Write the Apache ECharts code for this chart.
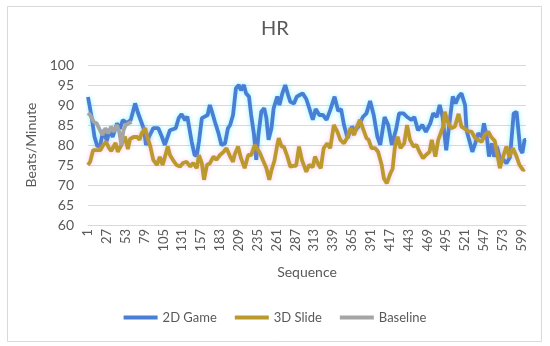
<!DOCTYPE html>
<html>
<head>
<meta charset="utf-8">
<script src="https://cdn.jsdelivr.net/npm/echarts@6/dist/echarts.min.js"></script>
<style>html,body{margin:0;padding:0;background:#fff;}#c{width:550px;height:346px;}</style>
</head>
<body>
<div id="c"></div>
<script>
// Sequence categories 1..605
var categoryCount = 605;

// 2D Game
var gameSeq = [1,6,10,14,18,22,27,31,35,41,
  45,49,55,60,66,70,74,78,81,85,
  91,98,103,107,114,122,126,130,135,138,
  140,144,148,151,154,158,162,166,169,172,
  176,181,185,190,194,197,201,205,209,212,
  216,219,223,226,230,233,236,240,244,247,
  250,254,257,262,265,269,273,277,280,285,
  289,293,297,302,307,311,315,320,325,330,
  335,341,346,350,354,359,365,369,374,380,
  385,390,395,400,404,410,415,420,426,430,
  436,441,447,451,456,462,467,473,477,482,
  486,490,495,500,504,508,512,516,521,523,
  528,531,535,539,544,547,551,554,558,561,
  565,569,574,578,583,588,592,597,600,603,
  605];
var gameHR = [92,87,82,79.6,80,83.7,81,84,82,85.4,
  84,86.2,85.5,86.3,90.4,88,86,84,80,82,
  84.2,84.2,82,80,83.7,84.2,86.7,87.7,86.2,87.1,
  85,80.8,77.5,77.3,80.8,86.7,87.1,87.5,90,88.3,
  85.8,82.9,80,80.4,84.2,85,87.5,94.2,95,93.7,
  95,92.9,92.1,87.5,82.5,76.3,82.5,88.3,89.2,86.7,
  81.3,84.2,89.2,92.1,90,92.9,95,92.5,90.8,90.4,
  92.1,92.5,92.9,91.5,88.7,86.3,89,87.5,87.5,86.3,
  88.7,92.1,88.5,89,85,81.7,84.6,83.5,84.6,87,
  87.9,91,87.5,82.1,80,87,85,80,84,87.9,
  87.9,87,86.3,87,83.7,85,83.3,85.4,87.9,87,
  90,87,78.7,86.3,92.1,90.4,92.1,92.9,90,83.7,
  80.4,78.3,80.4,82.9,82,85.4,82,77.1,80.4,77.1,
  79.6,76.7,76.3,75.4,77,87.9,88.3,79,78,81.3,
  81.3];

// 3D Slide
var slideSeq = [1,4,8,13,18,22,26,30,33,35,
  39,42,47,52,56,59,64,69,72,75,
  80,82,87,91,96,100,104,111,114,118,
  123,128,132,137,142,146,151,154,158,161,
  165,169,174,178,183,188,192,197,201,203,
  208,212,217,222,226,231,234,238,242,247,
  251,254,258,262,264,268,271,276,280,284,
  288,292,296,302,306,311,314,319,322,326,
  331,335,340,345,349,354,359,363,368,371,
  376,380,385,388,392,397,401,406,409,413,
  418,421,424,428,432,437,441,445,450,454,
  458,463,467,472,475,480,484,488,491,493,
  497,502,507,512,516,521,525,530,535,539,
  544,548,553,557,562,566,569,574,578,582,
  587,592,596,601,603];
var slideHR = [75,75.8,78.7,78.7,78.7,80,80.8,79.2,78.5,79,
  80.5,78.3,80,82.1,79,81.5,82,82,81.3,82.9,
  84.2,82.5,79.6,76.3,75,77,75,79.6,77.5,76.3,
  75,74.6,75.5,75.8,74.6,75.5,74.2,77.5,75.4,71.3,
  75,75.4,77.1,76.3,77.5,78.3,79.2,77.1,75.8,77.5,
  79.6,76.7,74.2,77.5,77.5,80,79.2,78,76.3,74.2,
  71.3,73.7,76,80,81.7,79.6,79.6,77.1,74.6,74.8,
  74.8,79.6,76.3,73.3,75,74.5,77.1,75,74.2,79.2,
  80.4,79.2,85,83.3,81.3,80.4,82,84.2,82.5,84.2,
  86.3,84.2,81.7,81.3,79.2,79.2,78.3,75,71.7,70.4,
  72.9,74,79.2,82.1,79.2,80.4,85,81.3,79.6,80,
  78.3,76.7,77.5,78.3,81.3,77.1,81.3,83.3,84.6,88.3,
  85.8,84.2,84.6,87.8,84.6,84,83.5,83.3,81.7,81.3,
  80.8,82.5,83.3,82,81,77.1,74.2,77.5,79.6,77,
  79.2,77.1,75,73.7,74];

// Baseline
var baseSeq = [1,4,9,13,18,21,25,29,33,36,41,44,47,50,53,57,61];
var baseHR = [88,87.5,85.8,85.4,83.5,82.5,84.2,82.9,84.6,83.3,85,83.3,80,83.7,85,85.4,85.8];

var seriesNames = ['2D Game', '3D Slide', 'Baseline'];

var categories = [];
for (var i = 1; i <= categoryCount; i++) categories.push(String(i));

function pairs(seq, vals) {
  return seq.map(function (s, i) { return [s - 1, vals[i]]; });
}

var txt = '#595959';
var font = 'Lato, "Noto Sans", sans-serif';

var chart = echarts.init(document.getElementById('c'), null, {renderer: 'canvas'});
chart.setOption({
  animation: false,
  backgroundColor: '#fff',
  title: {
    text: 'HR', left: 'center', top: 14,
    textStyle: {color: txt, fontSize: 20, fontWeight: 'normal', fontFamily: font}
  },
  graphic: [{
    type: 'rect', left: 5, top: 4, silent: true,
    shape: {width: 534, height: 335},
    style: {fill: 'none', stroke: '#D9D9D9', lineWidth: 1}
  }],
  grid: {left: 88, right: 24, top: 65, bottom: 121},
  legend: {
    bottom: 17, left: 'center', icon: 'rect', itemWidth: 34, itemHeight: 4, itemGap: 18,
    textStyle: {color: txt, fontSize: 13, fontFamily: font},
    data: seriesNames
  },
  xAxis: {
    type: 'category', data: categories, boundaryGap: false,
    name: 'Sequence', nameLocation: 'middle', nameGap: 40,
    nameTextStyle: {color: txt, fontSize: 14, fontFamily: font},
    axisLine: {lineStyle: {color: '#D9D9D9'}},
    axisTick: {show: false},
    axisLabel: {interval: 25, rotate: 90, color: txt, fontSize: 13, fontFamily: font, margin: 4}
  },
  yAxis: {
    type: 'value', min: 60, max: 100, interval: 5,
    name: 'Beats/Minute', nameLocation: 'middle', nameGap: 40,
    nameTextStyle: {color: txt, fontSize: 14, fontFamily: font},
    axisLine: {show: false}, axisTick: {show: false},
    axisLabel: {color: txt, fontSize: 14, fontFamily: font, margin: 14},
    splitLine: {lineStyle: {color: '#D9D9D9'}}
  },
  series: [
    {
      name: seriesNames[0], type: 'line', showSymbol: false, symbol: 'none',
      data: pairs(gameSeq, gameHR),
      itemStyle: {color: '#4A7DD4'},
      lineStyle: {width: 3.8, color: '#4A7DD4', shadowColor: 'rgba(0,230,255,0.45)', shadowBlur: 5}
    },
    {
      name: seriesNames[1], type: 'line', showSymbol: false, symbol: 'none',
      data: pairs(slideSeq, slideHR),
      itemStyle: {color: '#BA9A2C'},
      lineStyle: {width: 3.8, color: '#BA9A2C', shadowColor: 'rgba(255,120,210,0.4)', shadowBlur: 5}
    },
    {
      name: seriesNames[2], type: 'line', showSymbol: false, symbol: 'none',
      data: pairs(baseSeq, baseHR),
      itemStyle: {color: '#A5A5A5'},
      lineStyle: {width: 3.8, color: '#A5A5A5'}
    }
  ]
});
</script>
</body>
</html>
